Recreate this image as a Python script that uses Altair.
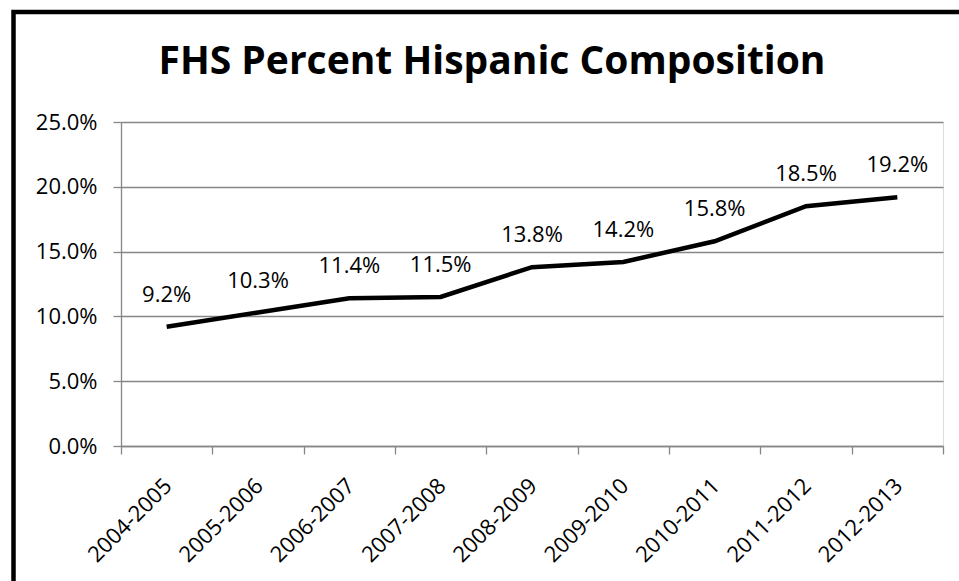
import altair as alt
import pandas as pd

years = ["2004-2005", "2005-2006", "2006-2007", "2007-2008", "2008-2009",
         "2009-2010", "2010-2011", "2011-2012", "2012-2013"]
pct = [0.092, 0.103, 0.114, 0.115, 0.138, 0.142, 0.158, 0.185, 0.192]
y_ticks = [0.0, 0.05, 0.10, 0.15, 0.20, 0.25]
title_text = "FHS Percent Hispanic Composition"

df = pd.DataFrame({"year": years, "pct": pct})

FONT = "Open Sans"
GRID = "#868686"

x_enc = alt.X("year:N", sort=years,
              scale=alt.Scale(type="band", paddingInner=0, paddingOuter=0),
              axis=alt.Axis(title=None, labelAngle=-45, labelAlign="right",
                            labelBaseline="middle", labelPadding=28, labelOffset=1,
                            tickBand="extent", tickSize=8, tickColor=GRID,
                            domainColor=GRID, domainWidth=1.3, tickWidth=1.3,
                            labelFont=FONT, labelFontSize=22, labelColor="black",
                            grid=False))
y_enc = alt.Y("pct:Q", scale=alt.Scale(domain=[0, 0.25], nice=False, zero=True),
              axis=alt.Axis(title=None, values=y_ticks, format=".1%",
                            tickSize=8, tickColor=GRID, tickWidth=1.3,
                            domainColor=GRID, domainWidth=1.3,
                            grid=True, gridColor=GRID, gridWidth=1.3,
                            labelPadding=16, labelFont=FONT, labelFontSize=22,
                            labelColor="black"))

base = alt.Chart(df)

line = base.mark_line(color="black", strokeWidth=4.5, strokeJoin="miter").encode(x=x_enc, y=y_enc)
labels = base.mark_text(dy=-32, font=FONT, fontSize=22, color="black",
                        baseline="middle", align="center").encode(
    x=alt.X("year:N", sort=years), y="pct:Q", text=alt.Text("pct:Q", format=".1%"))

border = alt.Chart(pd.DataFrame({"k": [0]})).mark_rect(
    fill=None, stroke="black", strokeWidth=4.5).encode(
    x=alt.value(-107.5), y=alt.value(-110), x2=alt.value(1000), y2=alt.value(600))

title = alt.Chart(pd.DataFrame({"t": [title_text]})).mark_text(
    font=FONT, fontSize=39, fontWeight="bold", color="black",
    align="center", baseline="alphabetic").encode(
    text="t:N", x=alt.value(371), y=alt.value(-48))

chart = alt.layer(line, labels, border, title).properties(
    width=822, height=324,
    autosize=alt.AutoSizeParams(type="none"),
    padding={"left": 121, "top": 122, "right": 16, "bottom": 135},
).configure_view(stroke=None).configure(background="white")

chart.save("out.html", embed_options={"renderer": "svg", "actions": False})
